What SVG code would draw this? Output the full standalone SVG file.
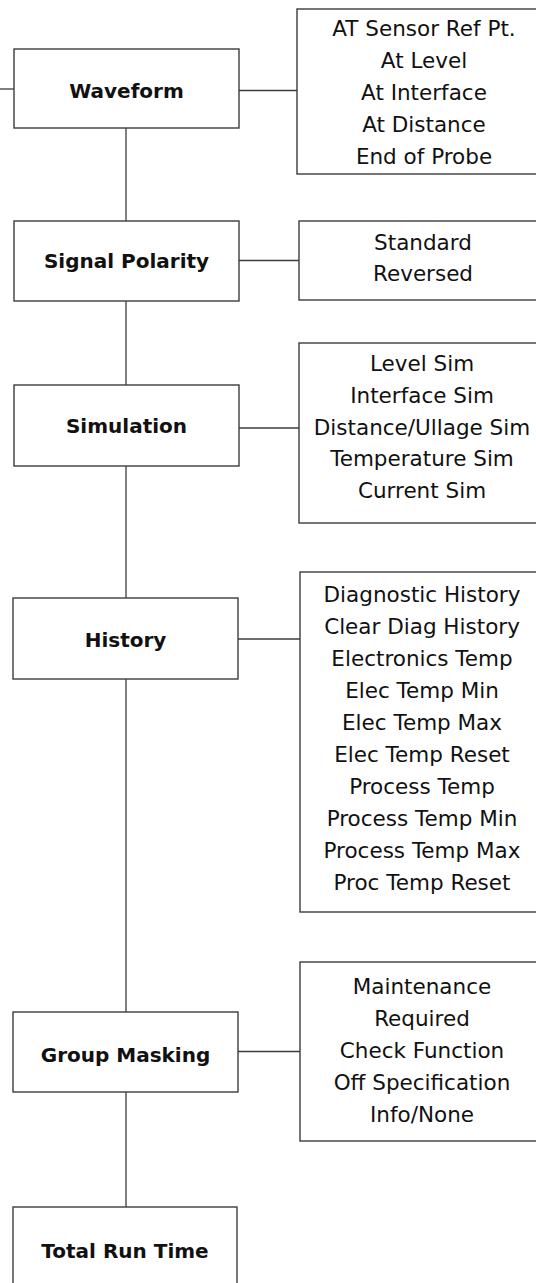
<svg xmlns="http://www.w3.org/2000/svg" width="536" height="1283" viewBox="0 0 536 1283">
<style>
.box{fill:#fff;stroke:#3c3c3c;stroke-width:1.4}
.ln{stroke:#3c3c3c;stroke-width:1.3;fill:none}
.t{font-family:"DejaVu Sans",sans-serif;font-weight:bold;font-size:20px;fill:#111;text-anchor:middle}
.o{font-family:"DejaVu Sans",sans-serif;font-size:21.5px;fill:#111;text-anchor:middle}
</style>
<rect width="536" height="1283" fill="#fff"/>
<g id="connectors">
<line class="ln" x1="0" y1="89" x2="14" y2="89"/>
<line class="ln" x1="126" y1="128" x2="126" y2="221"/>
<line class="ln" x1="126" y1="301" x2="126" y2="385"/>
<line class="ln" x1="126" y1="466" x2="126" y2="598"/>
<line class="ln" x1="126" y1="679" x2="126" y2="1012"/>
<line class="ln" x1="126" y1="1092" x2="126" y2="1207"/>
<line class="ln" x1="239" y1="90.5" x2="297" y2="90.5"/>
<line class="ln" x1="239" y1="260.5" x2="299" y2="260.5"/>
<line class="ln" x1="239" y1="428" x2="299" y2="428"/>
<line class="ln" x1="238" y1="639" x2="300" y2="639"/>
<line class="ln" x1="238" y1="1051.5" x2="300" y2="1051.5"/>
</g>
<g id="waveform">
<rect class="box" x="14" y="49" width="225" height="79"/>
<text class="t" x="126.5" y="98">Waveform</text>
</g>
<g id="waveform-options">
<rect class="box" x="297" y="9" width="260" height="165"/>
<text class="o" x="424" y="36">AT Sensor Ref Pt.</text>
<text class="o" x="424" y="68">At Level</text>
<text class="o" x="424" y="100">At Interface</text>
<text class="o" x="424" y="132">At Distance</text>
<text class="o" x="424" y="164">End of Probe</text>
</g>
<g id="signal-polarity">
<rect class="box" x="14" y="221" width="225" height="80"/>
<text class="t" x="126.5" y="268">Signal Polarity</text>
</g>
<g id="signal-polarity-options">
<rect class="box" x="299" y="221" width="260" height="79"/>
<text class="o" x="423" y="250">Standard</text>
<text class="o" x="423" y="281">Reversed</text>
</g>
<g id="simulation">
<rect class="box" x="14" y="385" width="225" height="81"/>
<text class="t" x="126.5" y="432.5">Simulation</text>
</g>
<g id="simulation-options">
<rect class="box" x="299" y="343" width="260" height="180"/>
<text class="o" x="422" y="371">Level Sim</text>
<text class="o" x="422" y="403">Interface Sim</text>
<text class="o" x="422" y="434.5">Distance/Ullage Sim</text>
<text class="o" x="422" y="466">Temperature Sim</text>
<text class="o" x="422" y="498">Current Sim</text>
</g>
<g id="history">
<rect class="box" x="13" y="598" width="225" height="81"/>
<text class="t" x="125.5" y="647">History</text>
</g>
<g id="history-options">
<rect class="box" x="300" y="572" width="260" height="340"/>
<text class="o" x="422" y="602">Diagnostic History</text>
<text class="o" x="422" y="634">Clear Diag History</text>
<text class="o" x="422" y="666">Electronics Temp</text>
<text class="o" x="422" y="698">Elec Temp Min</text>
<text class="o" x="422" y="730">Elec Temp Max</text>
<text class="o" x="422" y="762">Elec Temp Reset</text>
<text class="o" x="422" y="794">Process Temp</text>
<text class="o" x="422" y="826">Process Temp Min</text>
<text class="o" x="422" y="858">Process Temp Max</text>
<text class="o" x="422" y="890">Proc Temp Reset</text>
</g>
<g id="group-masking">
<rect class="box" x="13" y="1012" width="225" height="80"/>
<text class="t" x="125.5" y="1061.5">Group Masking</text>
</g>
<g id="group-masking-options">
<rect class="box" x="300" y="962" width="260" height="179"/>
<text class="o" x="422" y="994">Maintenance</text>
<text class="o" x="422" y="1026">Required</text>
<text class="o" x="422" y="1058">Check Function</text>
<text class="o" x="422" y="1090">Off Specification</text>
<text class="o" x="422" y="1122">Info/None</text>
</g>
<g id="total-run-time">
<rect class="box" x="13" y="1207" width="224" height="100"/>
<text class="t" x="125" y="1258">Total Run Time</text>
</g>
</svg>
